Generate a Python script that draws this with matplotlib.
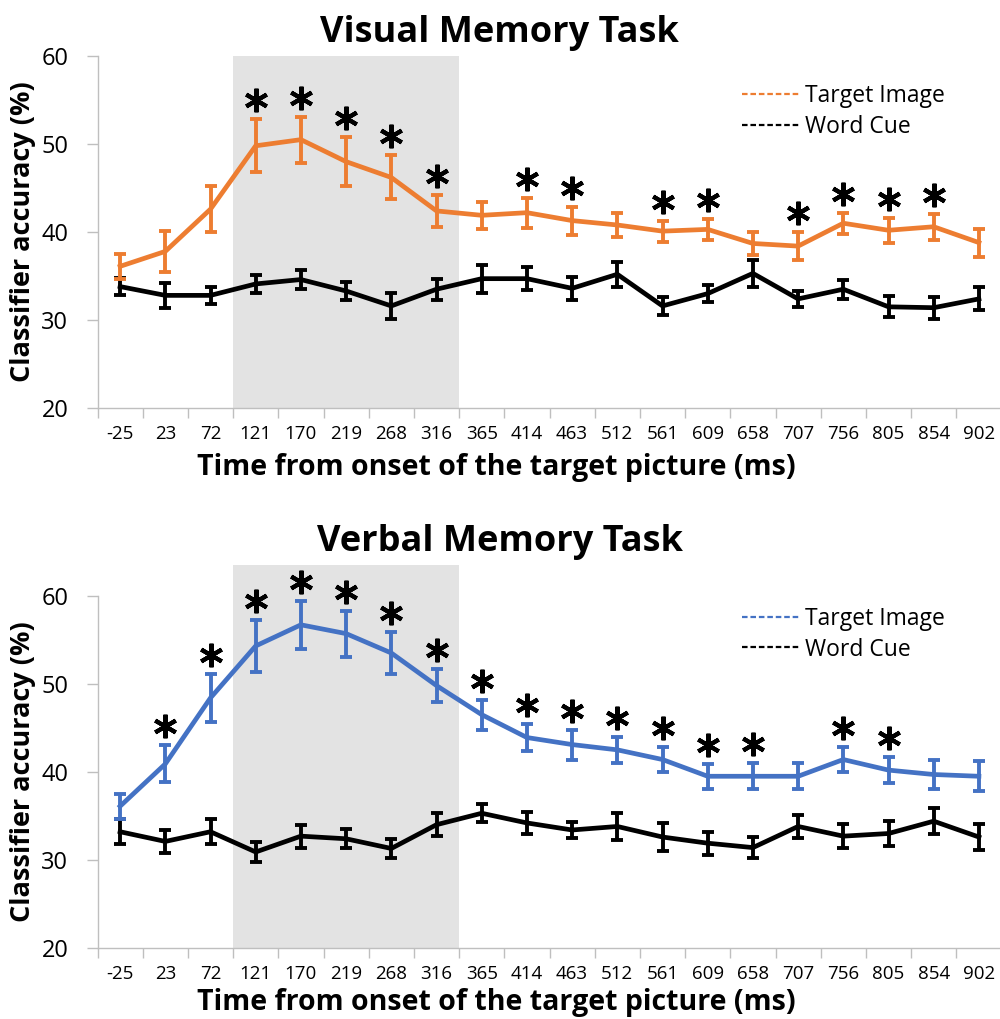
import matplotlib
matplotlib.use("Agg")
import matplotlib.pyplot as plt
from matplotlib.lines import Line2D
from matplotlib.transforms import offset_copy
import numpy as np

plt.rcParams['font.family'] = ['Open Sans', 'DejaVu Sans']

times = ["-25", "23", "72", "121", "170", "219", "268", "316", "365", "414",
         "463", "512", "561", "609", "658", "707", "756", "805", "854", "902"]

# Visual memory task
vis_target = [36.1, 37.8, 42.6, 49.8, 50.5, 48.0, 46.2, 42.4, 41.9, 42.2,
              41.3, 40.8, 40.1, 40.3, 38.7, 38.4, 41.0, 40.2, 40.6, 38.8]
vis_target_err = [1.4, 2.3, 2.6, 3.0, 2.6, 2.8, 2.5, 1.8, 1.5, 1.7,
                  1.6, 1.4, 1.2, 1.2, 1.3, 1.6, 1.2, 1.4, 1.5, 1.6]
vis_word = [33.8, 32.8, 32.8, 34.1, 34.6, 33.3, 31.6, 33.5, 34.7, 34.7,
            33.6, 35.2, 31.6, 33.0, 35.3, 32.4, 33.5, 31.5, 31.4, 32.4]
vis_word_err = [0.95, 1.4, 0.95, 1.0, 1.1, 1.0, 1.5, 1.2, 1.6, 1.3,
                1.3, 1.4, 1.0, 1.0, 1.5, 0.95, 1.1, 1.2, 1.25, 1.3]
vis_sig = [3, 4, 5, 6, 7, 9, 10, 12, 13, 15, 16, 17, 18]

# Verbal memory task
verb_target = [36.1, 40.9, 48.4, 54.3, 56.7, 55.7, 53.5, 49.8, 46.5, 43.9,
               43.1, 42.5, 41.4, 39.5, 39.5, 39.5, 41.4, 40.2, 39.7, 39.5]
verb_target_err = [1.4, 2.1, 2.7, 3.0, 2.75, 2.6, 2.4, 1.9, 1.7, 1.5,
                   1.7, 1.5, 1.4, 1.4, 1.5, 1.5, 1.4, 1.5, 1.6, 1.7]
verb_word = [33.2, 32.1, 33.2, 30.9, 32.7, 32.4, 31.3, 34.0, 35.3, 34.2,
             33.4, 33.8, 32.6, 31.9, 31.4, 33.8, 32.7, 33.0, 34.4, 32.6]
verb_word_err = [1.4, 1.3, 1.4, 1.1, 1.3, 1.1, 1.1, 1.3, 1.0, 1.2,
                 0.95, 1.5, 1.55, 1.3, 1.2, 1.3, 1.4, 1.4, 1.5, 1.45]
verb_sig = [1, 2, 3, 4, 5, 6, 7, 8, 9, 10, 11, 12, 13, 14, 16, 17]

ORANGE = "#ED7D31"
BLUE = "#4472C4"
SHADE = "#E3E3E3"
AXGRAY = "#BFBFBF"

FIG_W, FIG_H = 1000, 1019
fig = plt.figure(figsize=(10, 10.19), dpi=100)
ax1 = fig.add_axes([0.0975, 0.5996, 0.904, 0.3454])
ax2 = fig.add_axes([0.0975, 0.0697, 0.904, 0.3759])


def draw(ax, title, target, terr, word, werr, sig, color, ytop, xlab_off):
    x = np.arange(len(times))
    ax.set_xlim(-0.5, len(times) - 0.5)
    ax.set_ylim(20, ytop)
    ax.axvspan(2.5, 7.5, color=SHADE, zorder=0, lw=0)
    ax.errorbar(x, word, yerr=werr, color="black", lw=3.4, elinewidth=2.8,
                capsize=4.5, capthick=2.8, zorder=3)
    ax.errorbar(x, target, yerr=terr, color=color, lw=3.4, elinewidth=2.8,
                capsize=4.5, capthick=2.8, zorder=4)
    tops = np.array(target) + np.array(terr)
    tr = offset_copy(ax.transData, fig=fig, x=0, y=19, units='dots')
    ax.plot(x[sig], tops[sig], ls='none', marker=(6, 2, 0), ms=17, mew=3.0,
            color='black', transform=tr, zorder=5, clip_on=False)

    for s in ['top', 'right']:
        ax.spines[s].set_visible(False)
    for s in ['left', 'bottom']:
        ax.spines[s].set_color(AXGRAY)
        ax.spines[s].set_linewidth(1.0)
    ax.spines['left'].set_bounds(20, 60)
    ax.set_yticks([20, 30, 40, 50, 60])
    ax.tick_params(axis='y', labelsize=17, length=8, width=1, color=AXGRAY,
                   pad=13)
    ax.set_xticks(x)
    ax.set_xticklabels(times)
    ax.tick_params(axis='x', which='major', length=0, labelsize=13.5, pad=12)
    ax.set_xticks(np.arange(-0.5, len(times), 1), minor=True)
    ax.tick_params(axis='x', which='minor', length=7, width=1, color=AXGRAY)

    h_px = ax.get_position().height * FIG_H
    ax.set_xlabel("Time from onset of the target picture (ms)",
                  fontsize=20.5, fontweight='bold')
    ax.xaxis.set_label_coords(0.441, -xlab_off / h_px)
    ax.set_ylabel("Classifier accuracy (%)", fontsize=19.5, fontweight='bold')
    ax.yaxis.set_label_coords(-0.068, (40 - 20) / (ytop - 20))
    ax.set_title(title, fontsize=26, fontweight='bold', pad=10, x=0.445)
    ax.set_facecolor('none')

    handles = [Line2D([], [], color=color, lw=1.6, dashes=(2.5, 1.3)),
               Line2D([], [], color='black', lw=1.6, dashes=(2.5, 1.3))]
    ax.legend(handles, ["Target Image", "Word Cue"], loc='upper left',
              bbox_to_anchor=(0.69, 0.98 if ytop == 60 else 0.945),
              frameon=False, fontsize=16.5, handlelength=2.5,
              handletextpad=0.25, labelspacing=0.3)


draw(ax1, "Visual Memory Task", vis_target, vis_target_err, vis_word,
     vis_word_err, vis_sig, ORANGE, 60, 45)
draw(ax2, "Verbal Memory Task", verb_target, verb_target_err, verb_word,
     verb_word_err, verb_sig, BLUE, 63.5, 40)

fig.savefig("out.png", dpi=100)
